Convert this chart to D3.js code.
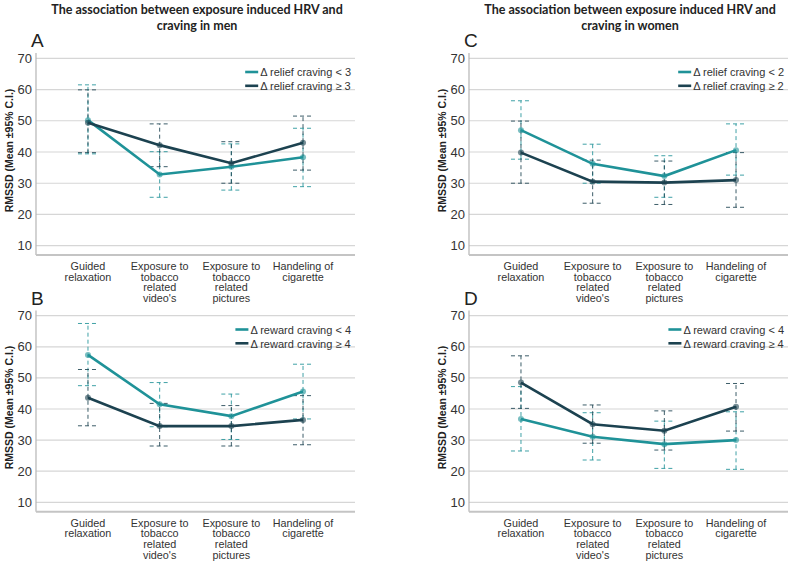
<!DOCTYPE html>
<html>
<head>
<meta charset="utf-8">
<script src="https://cdn.jsdelivr.net/npm/d3@7"></script>
<style>
 body { margin: 0; background: #fff; }
 text { font-family: "Liberation Sans", Arial, sans-serif; }
</style>
</head>
<body>
<script>
// categories on the x axis (each entry is the wrapped label lines)
var conditions = ["Guided relaxation", "Exposure to videos", "Exposure to pictures", "Handeling of cigarette"];
var conditionLines = [
 ["Guided", "relaxation"],
 ["Exposure to", "tobacco", "related", "video's"],
 ["Exposure to", "tobacco", "related", "pictures"],
 ["Handeling of", "cigarette"]
];
var yTicks = [10, 20, 30, 40, 50, 60, 70];

// A: men, relief craving
var menReliefLowMean = [50.2, 32.8, 35.3, 38.3];
var menReliefLowLo = [39.4, 25.5, 27.8, 28.9];
var menReliefLowHi = [61.5, 40.1, 42.6, 47.6];
var menReliefHighMean = [49.4, 42.2, 36.4, 43.0];
var menReliefHighLo = [39.8, 35.3, 30.0, 34.2];
var menReliefHighHi = [59.9, 49.0, 43.3, 51.5];

// B: men, reward craving
var menRewardLowMean = [57.4, 41.5, 37.7, 45.6];
var menRewardLowLo = [47.5, 34.3, 30.2, 36.8];
var menRewardLowHi = [67.5, 48.5, 44.8, 54.4];
var menRewardHighMean = [43.6, 34.5, 34.5, 36.5];
var menRewardHighLo = [34.6, 28.1, 28.1, 28.5];
var menRewardHighHi = [52.7, 41.8, 41.1, 44.3];

// C: women, relief craving
var womenReliefLowMean = [47.0, 36.2, 32.3, 40.6];
var womenReliefLowLo = [37.7, 30.0, 25.5, 32.6];
var womenReliefLowHi = [56.4, 42.5, 38.8, 49.0];
var womenReliefHighMean = [39.8, 30.5, 30.2, 31.0];
var womenReliefHighLo = [30.0, 23.6, 23.2, 22.3];
var womenReliefHighHi = [49.9, 37.4, 37.1, 39.8];

// D: women, reward craving
var womenRewardLowMean = [36.8, 31.1, 28.7, 30.0];
var womenRewardLowLo = [26.5, 23.6, 20.9, 20.6];
var womenRewardLowHi = [47.2, 38.8, 36.1, 39.1];
var womenRewardHighMean = [48.5, 35.1, 33.0, 40.7];
var womenRewardHighLo = [40.2, 29.0, 26.8, 32.9];
var womenRewardHighHi = [57.1, 41.3, 39.4, 48.2];

var teal = "#1f9298", dark = "#1c4250";

var panels = [
 {letter: "A", left: 36, right: 355, top: 58.3, bottom: 245.7, axisBottom: 255, legendX: 252, legendY: 72,
  names: ["Δ relief craving < 3", "Δ relief craving ≥ 3"],
  low: [menReliefLowMean, menReliefLowLo, menReliefLowHi], high: [menReliefHighMean, menReliefHighLo, menReliefHighHi]},
 {letter: "B", left: 36, right: 355, top: 315.7, bottom: 502.3, axisBottom: 511.7, legendX: 246, legendY: 329.5,
  names: ["Δ reward craving < 4", "Δ reward craving ≥ 4"],
  low: [menRewardLowMean, menRewardLowLo, menRewardLowHi], high: [menRewardHighMean, menRewardHighLo, menRewardHighHi]},
 {letter: "C", left: 469, right: 788, top: 58.3, bottom: 245.7, axisBottom: 255, legendX: 683, legendY: 72,
  names: ["Δ relief craving < 2", "Δ relief craving ≥ 2"],
  low: [womenReliefLowMean, womenReliefLowLo, womenReliefLowHi], high: [womenReliefHighMean, womenReliefHighLo, womenReliefHighHi]},
 {letter: "D", left: 469, right: 788, top: 315.7, bottom: 502.3, axisBottom: 511.7, legendX: 673, legendY: 329.5,
  names: ["Δ reward craving < 4", "Δ reward craving ≥ 4"],
  low: [womenRewardLowMean, womenRewardLowLo, womenRewardLowHi], high: [womenRewardHighMean, womenRewardHighLo, womenRewardHighHi]}
];

var svg = d3.select("body").append("svg")
 .attr("width", 790)
 .attr("height", 563);

// column titles
var titles = [
 {x: 197, lines: ["The association between exposure induced HRV and", "craving in men"]},
 {x: 630, lines: ["The association between exposure induced HRV and", "craving in women"]}
];
titles.forEach(function(t) {
 t.lines.forEach(function(l, i) {
  svg.append("text")
   .attr("x", t.x).attr("y", 14 + i * 15.5)
   .attr("text-anchor", "middle")
   .style("font-family", "Lato, sans-serif")
   .style("font-size", "12.5px")
   .style("font-weight", "bold")
   .style("fill", "#222")
   .text(l);
 });
});

panels.forEach(function(p) {
 var g = svg.append("g");
 var x = d3.scalePoint().domain(conditions).range([p.left, p.right]).padding(0.725);
 var y = d3.scaleLinear().domain([10, 70]).range([p.bottom, p.top]);

 // gridlines
 g.selectAll(".grid").data(yTicks).enter().append("line")
  .attr("x1", p.left).attr("x2", p.right)
  .attr("y1", function(d) { return y(d); }).attr("y2", function(d) { return y(d); })
  .attr("stroke", "#d6d6d6").attr("stroke-width", 1.2);

 // axes lines
 g.append("line").attr("x1", p.left).attr("x2", p.left)
  .attr("y1", y(71.7)).attr("y2", p.axisBottom)
  .attr("stroke", "#b5b5b5").attr("stroke-width", 1.2);
 g.append("line").attr("x1", p.left).attr("x2", p.right)
  .attr("y1", p.axisBottom).attr("y2", p.axisBottom)
  .attr("stroke", "#c4c4c4").attr("stroke-width", 2);

 // y tick labels
 g.selectAll(".yt").data(yTicks).enter().append("text")
  .attr("x", p.left - 4).attr("y", function(d) { return y(d) + 4.5; })
  .attr("text-anchor", "end")
  .style("font-size", "13px").style("fill", "#333")
  .text(function(d) { return d; });

 // y axis title
 g.append("text")
  .attr("transform", "translate(" + (p.left - 23) + "," + y(40.5) + ") rotate(-90)")
  .attr("text-anchor", "middle")
  .style("font-size", "10.5px").style("font-weight", "bold").style("fill", "#222")
  .text("RMSSD (Mean ±95% C.I.)");

 // x labels
 conditions.forEach(function(c, i) {
  conditionLines[i].forEach(function(l, j) {
   g.append("text")
    .attr("x", x(c)).attr("y", p.axisBottom + 15 + j * 10.6)
    .attr("text-anchor", "middle")
    .style("font-size", "10.8px").style("fill", "#333")
    .text(l);
  });
 });

 // panel letter
 svg.append("text")
  .attr("x", p.left - 5).attr("y", p.top - 11)
  .style("font-size", "19px").style("fill", "#222")
  .text(p.letter);

 var series = [{d: p.low, c: teal}, {d: p.high, c: dark}];

 // error bars
 series.forEach(function(s) {
  conditions.forEach(function(c, i) {
   var cx = x(c);
   g.append("line").attr("x1", cx).attr("x2", cx)
    .attr("y1", y(s.d[1][i])).attr("y2", y(s.d[2][i]))
    .attr("stroke", s.c).attr("stroke-width", 1).attr("stroke-dasharray", "4,3").attr("opacity", 0.85);
   [s.d[1][i], s.d[2][i]].forEach(function(v) {
    g.append("line").attr("x1", cx - 10).attr("x2", cx + 10)
     .attr("y1", y(v)).attr("y2", y(v))
     .attr("stroke", s.c).attr("stroke-width", 1).attr("stroke-dasharray", "4,3").attr("opacity", 0.85);
   });
  });
 });

 // mean lines + markers
 var line = d3.line()
  .x(function(d, i) { return x(conditions[i]); })
  .y(function(d) { return y(d); });
 series.forEach(function(s) {
  g.append("path").datum(s.d[0])
   .attr("d", line)
   .attr("fill", "none").attr("stroke", s.c).attr("stroke-width", 2.6);
  g.selectAll(null).data(s.d[0]).enter().append("circle")
   .attr("cx", function(d, i) { return x(conditions[i]); })
   .attr("cy", function(d) { return y(d); })
   .attr("r", 3)
   .attr("fill", s.c).attr("opacity", 0.6);
 });

 // legend: measured so it never runs past the right edge
 var leg = g.append("g");
 var maxW = 0;
 series.forEach(function(s, i) {
  var ly = p.legendY + i * 13.8;
  leg.append("line").attr("x1", 0).attr("x2", 13)
   .attr("y1", ly).attr("y2", ly)
   .attr("stroke", s.c).attr("stroke-width", 2.6);
  var t = leg.append("text")
   .attr("x", 15).attr("y", ly + 4.2)
   .style("font-size", "11px").style("fill", "#333")
   .text(p.names[i]);
  maxW = Math.max(maxW, t.node().getComputedTextLength());
 });
 var lx = Math.min(p.legendX, p.right - 4 - 15 - maxW);
 leg.attr("transform", "translate(" + lx + ",0)");
});
</script>
</body>
</html>
